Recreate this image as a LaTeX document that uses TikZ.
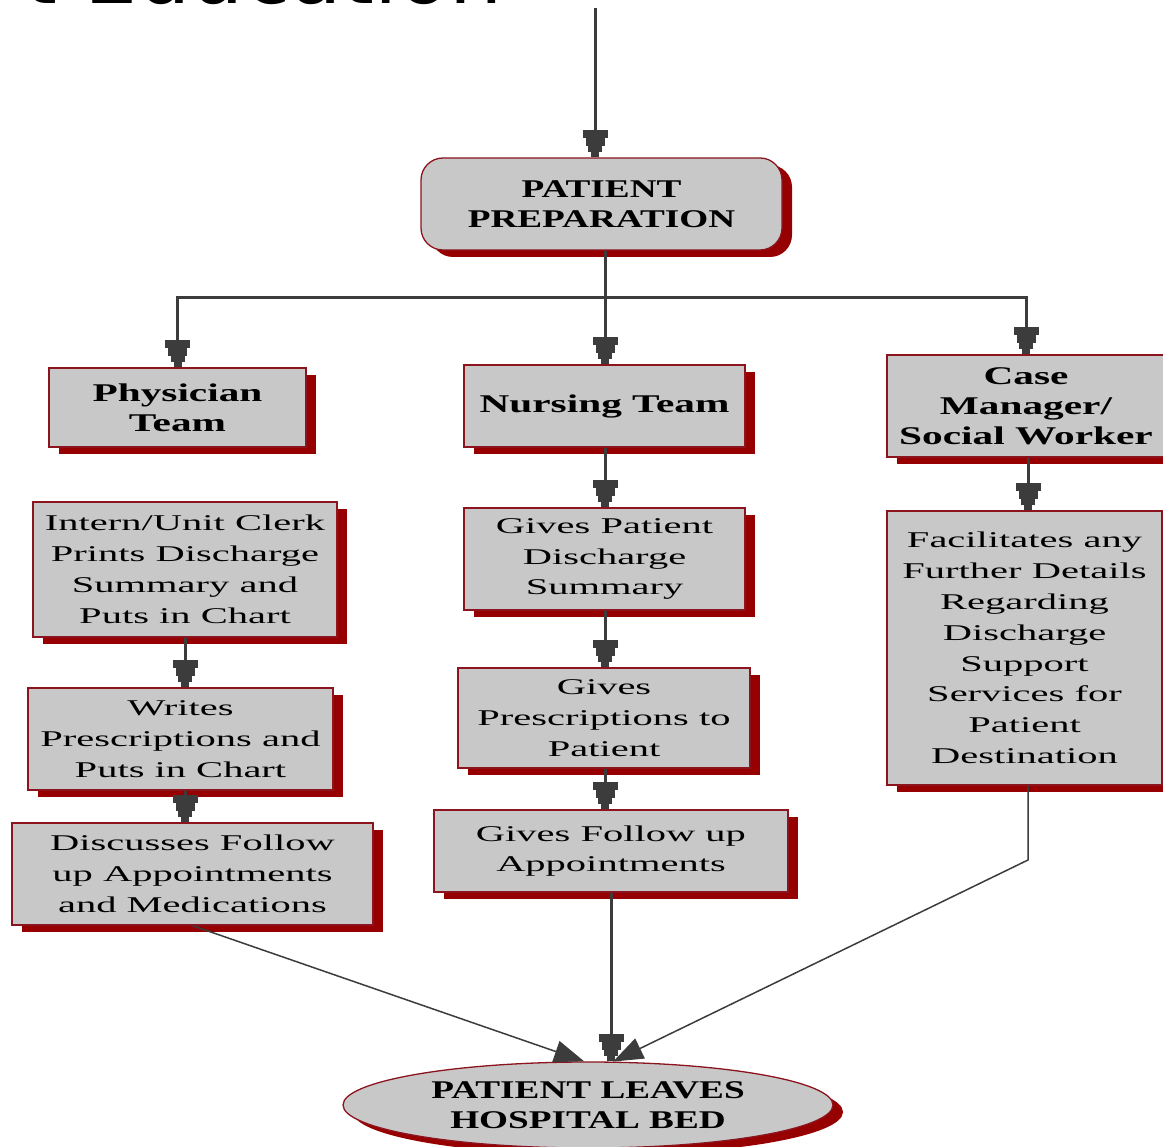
\documentclass[tikz,border=0pt]{standalone}
\usepackage{fontspec}
\setmainfont{Liberation Serif}
% widened serif faces for the box labels
\newfontfamily\capsfont{Liberation Serif}[FakeStretch=1.46]
\newfontfamily\headfont{Liberation Serif}[FakeStretch=1.62]
\newfontfamily\bodyfont{Liberation Serif}[FakeStretch=1.8]
\newfontfamily\titlefont{DejaVu Sans}
\usetikzlibrary{arrows.meta,shapes.geometric,shadows}

\definecolor{boxgray}{RGB}{200,200,200}
\definecolor{edgered}{RGB}{140,20,30}
\definecolor{shadowred}{RGB}{150,0,0}
\definecolor{linegray}{RGB}{60,60,60}

\begin{document}
\begin{tikzpicture}[x=1pt,y=-1pt,
  % stepped, plug-like arrow head
  plug/.tip={Rectangle[length=8pt,width=25pt] Rectangle[length=8pt,width=19pt]
             Rectangle[length=6pt,width=14pt] Rectangle[length=5pt,width=8pt]},
  barb/.tip={Triangle[length=30pt,width=22pt]},
  basebox/.style={draw=edgered, line width=1.3pt, fill=boxgray, align=center,
    inner sep=0pt,
    drop shadow={shadow xshift=10pt, shadow yshift=-7pt, fill=shadowred, opacity=1}},
  capsbox/.style={basebox, font=\capsfont\bfseries\fontsize{25.5}{30}\selectfont},
  headbox/.style={basebox, font=\headfont\bfseries\fontsize{25.5}{30}\selectfont},
  stepbox/.style={basebox, font=\bodyfont\fontsize{22.5}{30.8}\selectfont},
  wire/.style={draw=linegray, line width=3pt},
  arrowwire/.style={wire, -{plug[fill=linegray,line width=0pt]}},
  thinwire/.style={draw=linegray, line width=1.5pt, -{barb[fill=linegray]}}
]
\useasboundingbox (0,0) rectangle (1163,1147);
\clip (0,0) rectangle (1163,1147);

% heading above the chart
\node[anchor=base east, inner sep=0pt, font=\titlefont\fontsize{84}{90}\selectfont]
  (title) at (503,4) {t Education};

% free end of the incoming arrow and the branching points
\coordinate (src) at (595,8);
\coordinate (bus) at (605,298);
\coordinate (fbend) at (1028,860);

% boxes
\node[capsbox, rounded corners=22pt, minimum width=361pt, minimum height=92pt]
  (prep) at (601.5,204) {PATIENT\\PREPARATION};

\node[headbox, minimum width=257pt, minimum height=79pt]
  (phys) at (177.5,407.5) {Physician\\Team};
\node[headbox, minimum width=281pt, minimum height=82pt]
  (nurse) at (604.5,406) {Nursing Team};
\node[headbox, minimum width=278pt, minimum height=102pt]
  (case) at (1026,406) {Case\\Manager/\\Social Worker};

\node[stepbox, minimum width=304pt, minimum height=135pt]
  (intern) at (185,569.5) {Intern/Unit Clerk\\Prints Discharge\\Summary and\\Puts in Chart};
\node[stepbox, minimum width=305pt, minimum height=102pt]
  (writes) at (180.5,739) {Writes\\Prescriptions and\\Puts in Chart};
\node[stepbox, minimum width=361pt, minimum height=102pt]
  (discuss) at (192.5,874) {Discusses Follow\\up Appointments\\and Medications};

\node[stepbox, minimum width=281pt, minimum height=102pt]
  (sumry) at (604.5,559) {Gives Patient\\Discharge\\Summary};
\node[stepbox, minimum width=292pt, minimum height=100pt]
  (rx) at (604,718) {Gives\\Prescriptions to\\Patient};
\node[stepbox, minimum width=354pt, minimum height=82pt]
  (follow) at (611,851) {Gives Follow up\\Appointments};

\node[stepbox, minimum width=275pt, minimum height=274pt]
  (facil) at (1024.5,648) {Facilitates any\\Further Details\\Regarding\\Discharge\\Support\\Services for\\Patient\\Destination};

\node[capsbox, ellipse, minimum width=490pt, minimum height=86pt]
  (leave) at (588,1105) {PATIENT LEAVES\\HOSPITAL BED};

% connectors
\draw[arrowwire] (src) -- (src |- prep.north);
\draw[wire] (prep.south -| bus) -- (bus);
\draw[wire] (bus -| phys) -- (bus -| case);
\draw[arrowwire] (bus) -| (phys.north);
\draw[arrowwire] (bus) -- (bus |- nurse.north);
\draw[arrowwire] (bus) -| (case.north);

\draw[arrowwire] (nurse.south -| bus) -- (sumry.north -| bus);
\draw[arrowwire] (sumry.south -| bus) -- (rx.north -| bus);
\draw[arrowwire] (rx.south -| bus) -- (follow.north -| bus);
\draw[arrowwire] (follow.south) -- (follow.south |- leave.north);

\draw[arrowwire] (case.south -| fbend) -- (facil.north -| fbend);

\draw[arrowwire] (intern.south) -- (intern.south |- writes.north);
\draw[arrowwire] (writes.south -| intern) -- (discuss.north -| intern);

\draw[thinwire] (discuss.south) -- (leave.95);
\draw[thinwire] (facil.south -| fbend) -- (fbend) -- (leave.60);
\end{tikzpicture}
\end{document}
